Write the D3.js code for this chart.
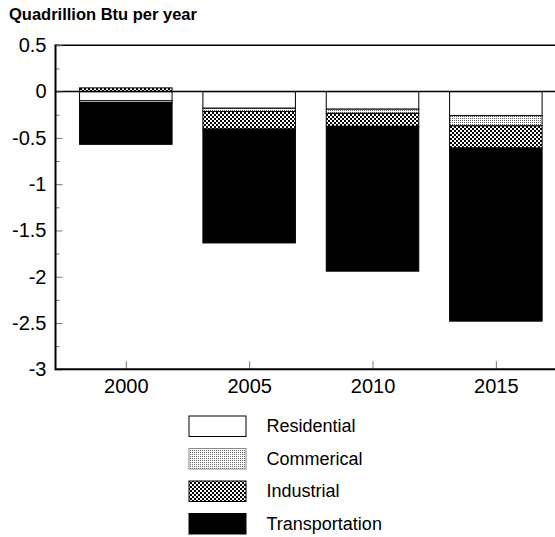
<!DOCTYPE html>
<html><head><meta charset="utf-8">
<script src="https://cdn.jsdelivr.net/npm/d3@7"></script>
<style>html,body{margin:0;background:#fff;overflow:hidden}svg{display:block;font-family:Arial,"Liberation Sans",sans-serif}</style>
</head><body><svg id="c" width="555" height="537"></svg>
<script>
const years = [2000, 2005, 2010, 2015];
const residential = [-0.10, -0.18, -0.19, -0.26];
const commercial = [-0.02, -0.035, -0.045, -0.11];
const industrial = [0.04, -0.19, -0.14, -0.24];
const transportation = [-0.45, -1.23, -1.565, -1.87];
const seriesNames = ["Residential", "Commerical", "Industrial", "Transportation"];
const seriesKeys = ["residential", "commercial", "industrial", "transportation"];
const yTicks = [0.5, 0, -0.5, -1, -1.5, -2, -2.5, -3];
const yMinor = [0.25, -0.25, -0.75, -1.25, -1.75, -2.25, -2.75];

const rows = years.map((y, i) => ({year: y, residential: residential[i], commercial: commercial[i], industrial: industrial[i], transportation: transportation[i]}));

const svg = d3.select("#c");
const defs = svg.append("defs");
const pc = defs.append("pattern").attr("id","pCom").attr("patternUnits","userSpaceOnUse").attr("width",2).attr("height",2);
pc.append("rect").attr("width",2).attr("height",2).attr("fill","#fff");
pc.append("rect").attr("width",1).attr("height",1).attr("fill","#666");
const pi = defs.append("pattern").attr("id","pInd").attr("patternUnits","userSpaceOnUse").attr("width",4).attr("height",4);
pi.append("rect").attr("width",4).attr("height",4).attr("fill","#fff");
pi.append("rect").attr("width",2).attr("height",2).attr("fill","#000");
pi.append("rect").attr("x",2).attr("y",2).attr("width",2).attr("height",2).attr("fill","#000");
const fills = {residential:"#fff", commercial:"url(#pCom)", industrial:"url(#pInd)", transportation:"#000"};

const left = 55.5, plotTop = 45.3, plotBottom = 369.3;
const x = d3.scaleLinear().domain([1997.15, 2018]).range([left, left + 20.85*24.67]);
const y = d3.scaleLinear().domain([-3, 0.5]).range([plotBottom, plotTop]);
const halfW = 1.875;

const stack = d3.stack().keys(seriesKeys).offset(d3.stackOffsetDiverging);
const layers = stack(rows);

// bars
const g = svg.append("g");
layers.forEach(layer => {
  g.selectAll(null).data(layer).enter().append("rect")
    .attr("x", d => x(d.data.year - halfW))
    .attr("width", d => x(d.data.year + halfW) - x(d.data.year - halfW))
    .attr("y", d => y(Math.max(d[0], d[1])))
    .attr("height", d => Math.abs(y(d[0]) - y(d[1])))
    .attr("fill", fills[layer.key])
    .attr("stroke", "#000").attr("stroke-width", 1);
});

// zero line and top line
svg.append("line").attr("x1", left).attr("x2", 555).attr("y1", y(0)).attr("y2", y(0)).attr("stroke","#000").attr("stroke-width",1.5);
svg.append("line").attr("x1", left).attr("x2", 555).attr("y1", y(0.5)).attr("y2", y(0.5)).attr("stroke","#000").attr("stroke-width",1.5);

// y axis ticks (inside)
const yt = svg.append("g").attr("transform", `translate(${left},0)`)
  .call(d3.axisRight(y).tickValues(yTicks).tickSize(7).tickFormat(""));
yt.select(".domain").remove();
yt.selectAll("line").attr("stroke","#777");
const ym = svg.append("g").attr("transform", `translate(${left},0)`)
  .call(d3.axisRight(y).tickValues(yMinor).tickSize(4).tickFormat(""));
ym.select(".domain").remove();
ym.selectAll("line").attr("stroke","#777");
// y labels
const yl = svg.append("g").attr("transform", `translate(${left},0)`)
  .call(d3.axisLeft(y).tickValues(yTicks).tickSize(0).tickPadding(9).tickFormat(d => String(d)));
yl.select(".domain").remove();
yl.selectAll("text").attr("font-size", 20).attr("font-family","Arial,'Liberation Sans',sans-serif").attr("fill","#000");

// x axis
const xt = svg.append("g").attr("transform", `translate(0,${plotBottom})`)
  .call(d3.axisTop(x).tickValues(years).tickSize(8).tickFormat(""));
xt.select(".domain").remove();
xt.selectAll("line").attr("stroke","#777");
const xl = svg.append("g").attr("transform", `translate(0,${plotBottom})`)
  .call(d3.axisBottom(x).tickValues(years).tickSize(0).tickPadding(10).tickFormat(d => String(d)));
xl.select(".domain").remove();
xl.selectAll("text").attr("font-size", 20).attr("font-family","Arial,'Liberation Sans',sans-serif").attr("fill","#000");

// axis lines
svg.append("line").attr("x1", left).attr("x2", left).attr("y1", plotTop-0.7).attr("y2", plotBottom+1).attr("stroke","#000").attr("stroke-width",2);
svg.append("line").attr("x1", left).attr("x2", 555).attr("y1", plotBottom).attr("y2", plotBottom).attr("stroke","#000").attr("stroke-width",2);

// title
svg.append("text").attr("x", 9).attr("y", 20).attr("font-size", 16.5).attr("font-weight","bold").text("Quadrillion Btu per year");

// legend
const lg = svg.append("g");
seriesKeys.forEach((k, i) => {
  const top = 416 + i*32.5;
  lg.append("rect").attr("x", 189).attr("y", top).attr("width", 57).attr("height", 20.5)
    .attr("fill", fills[k]).attr("stroke", k === "commercial" ? "#888" : "#000").attr("stroke-width", 1);
  lg.append("text").attr("x", 266.5).attr("y", top + 16).attr("font-size", 18).text(seriesNames[i]);
});
</script></body></html>
